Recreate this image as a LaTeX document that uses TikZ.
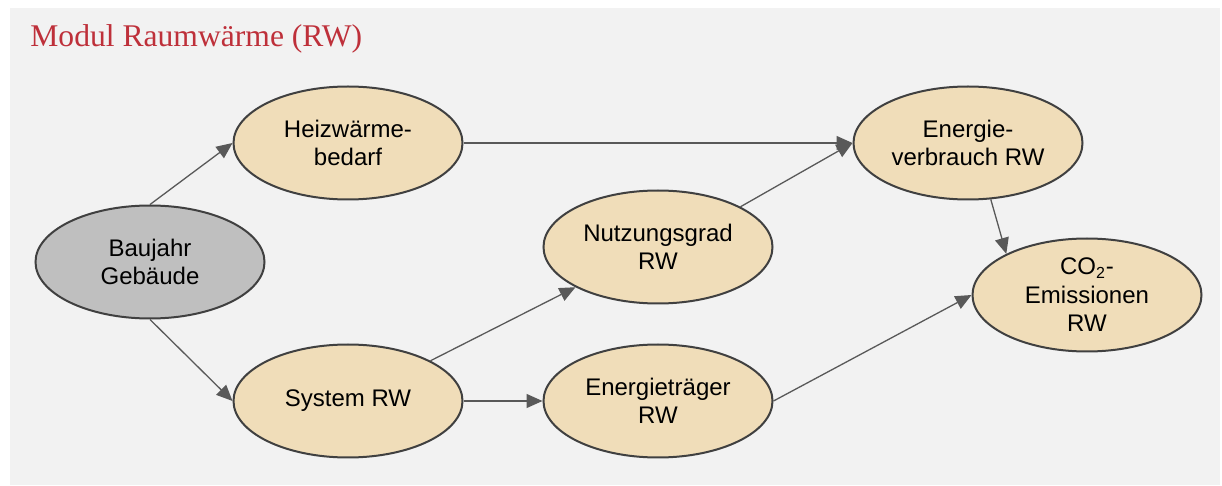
\documentclass[tikz,border=0pt]{standalone}
\usepackage{fontspec}
\setmainfont{Liberation Sans}
\newfontfamily\titlefont{Liberation Serif}
\usetikzlibrary{shapes.geometric,arrows.meta}

\definecolor{panelbg}{RGB}{242,242,242}
\definecolor{beige}{RGB}{240,221,185}
\definecolor{nodegray}{RGB}{191,191,191}
\definecolor{rimline}{RGB}{64,64,64}
\definecolor{linkgray}{RGB}{89,89,89}
\definecolor{titlered}{RGB}{190,48,58}

\tikzset{
  blob/.style={ellipse, draw=rimline, line width=1pt, fill=beige,
    minimum width=114.5pt, minimum height=56.5pt, inner sep=0pt,
    align=center, font=\fontsize{12pt}{14.2pt}\selectfont},
  grayblob/.style={blob, fill=nodegray},
  link/.style={draw=linkgray, line width=0.65pt,
    -{Triangle[length=8pt,width=7pt]}},
}

\begin{document}
\begin{tikzpicture}[x=0.5pt, y=-0.5pt]
  % canvas and grey panel
  \useasboundingbox (0,0) rectangle (1222,486);
  \fill[white] (0,0) rectangle (1222,486);
  \fill[panelbg] (10,8) rectangle (1220,485);

  % heading
  \node[anchor=base west, inner sep=0pt, text=titlered,
        font=\titlefont\fontsize{15.8pt}{18pt}\selectfont]
    (title) at (30,47) {Modul Raumwärme (RW)};

  % nodes
  \node[grayblob] (bj) at (150,262) {Baujahr\\Gebäude};
  \node[blob] (hw) at (348,143) {Heizwärme-\\bedarf};
  \node[blob] (sys) at (348,401) {System RW};
  \node[blob] (nu) at (658,247) {Nutzungsgrad\\RW};
  \node[blob] (et) at (658,401) {Energieträger\\RW};
  \node[blob] (ev) at (968,143) {Energie-\\verbrauch RW};
  \node[blob] (co) at (1087,295) {CO\textsubscript{2}-\\Emissionen\\RW};

  % connectors
  \draw[link] (bj.north) -- (hw.west);
  \draw[link] (bj.south) -- (sys.west);
  \draw[link] (hw.east) -- (ev.west);
  \draw[link] (nu.26.6) -- (ev.west);
  \draw[link] (sys.26.6) -- (nu.206.6);
  \draw[link] (sys.east) -- (et.west);
  \draw[link] (et.east) -- (co.west);
  \draw[link] (ev.-68) -- (co.153.4);
\end{tikzpicture}
\end{document}
